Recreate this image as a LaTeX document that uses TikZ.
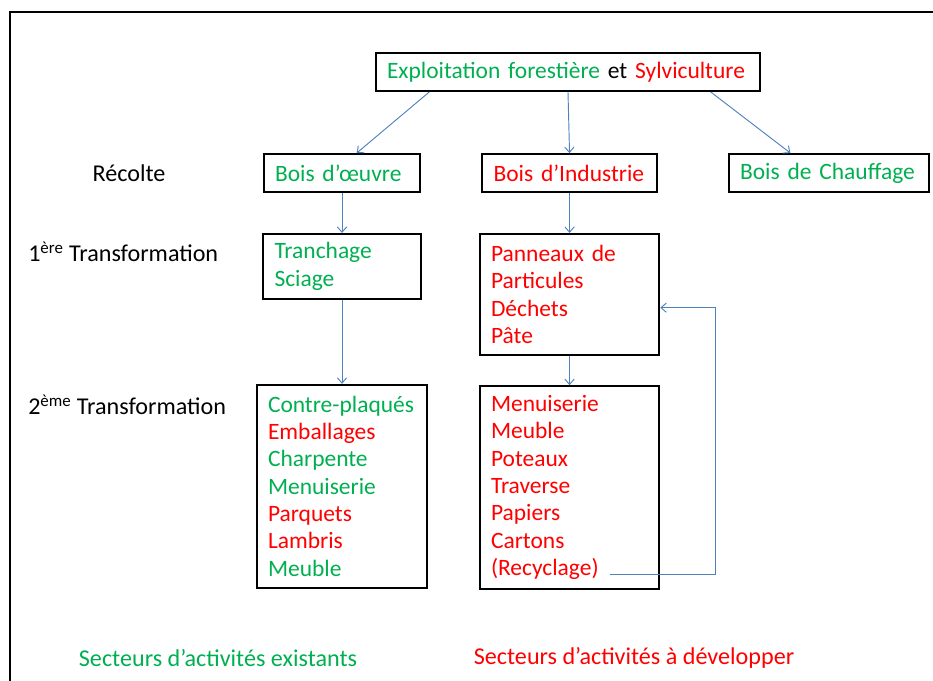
\documentclass[tikz,border=0pt]{standalone}
\usepackage{fontspec}
\setmainfont{Carlito}
\usepackage{xcolor}
\usepackage{tikz}
\usetikzlibrary{positioning,arrows.meta}
\definecolor{vert}{HTML}{00B050}
\definecolor{rouge}{HTML}{FF0000}
\definecolor{fleche}{HTML}{4F81BD}

\begin{document}
\begin{tikzpicture}[x=0.75pt, y=-0.75pt, node distance=31.5pt and 45pt,
    box/.style={draw, line width=1.4pt, inner xsep=8.5pt, inner ysep=0pt, align=left, font=\fontsize{17.6pt}{20.5pt}\selectfont},
    stage/.style={font=\fontsize{18.1pt}{21pt}\selectfont, inner sep=0pt},
    link/.style={-{Straight Barb[length=4pt,width=7pt]}, draw=fleche, line width=0.7pt}]
        \useasboundingbox (0,0) rectangle (933,681); % Page size
        \draw[line width=1.6pt] (10,681) -- (10,12) -- (933,12); % Frame

        % Top of the tree
        \node[box, text width=271.5pt, minimum height=28.5pt] (expl) at (568,72) {\textcolor{vert}{Exploitation forestière} et \textcolor{rouge}{Sylviculture}};

        % Harvest row
        \node[box, text width=100.5pt, minimum height=28.5pt, text=vert] (oeuvre) at (342,173) {Bois d’œuvre};
        \node[box, text width=114pt, minimum height=28.5pt, text=rouge, right=45pt of oeuvre] (indus) {Bois d’Industrie};
        \node[box, text width=133.5pt, minimum height=28.5pt, text=vert, right=52.5pt of indus] (chauf) {Bois de Chauffage};

        % First transformation
        \node[box, text width=101.25pt, minimum height=48.75pt, text=vert, below=30pt of oeuvre] (tranch) {Tranchage\\Sciage};
        \node[box, text width=117.75pt, minimum height=90.75pt, text=rouge, below=30pt of indus] (pann) {Panneaux de\\Particules\\Déchets\\Pâte};

        % Second transformation
        \node[box, text width=111pt, inner xsep=8pt, minimum height=152.25pt, below=63pt of tranch] (contre) {\textcolor{vert}{Contre-plaqués}\\\textcolor{rouge}{Emballages}\\\textcolor{vert}{Charpente}\\\textcolor{vert}{Menuiserie}\\\textcolor{rouge}{Parquets}\\\textcolor{rouge}{Lambris}\\\textcolor{vert}{Meuble}};
        \node[box, text width=117.75pt, minimum height=152.25pt, text=rouge, below=22pt of pann] (menu) {Menuiserie\\Meuble\\Poteaux\\Traverse\\Papiers\\Cartons\\(Recyclage)};

        % Stage names on the left
        \node[stage] (recolte) at (129,173) {Récolte};
        \node[stage, anchor=west] (trans1) at (28,252) {1\textsuperscript{ère} Transformation};
        \node[stage, anchor=west] (trans2) at (28,405) {2\textsuperscript{ème} Transformation};

        % Legend
        \node[stage, text=vert] (exist) at (218,658) {Secteurs d’activités existants};
        \node[stage, text=rouge] (dev) at (634,658) {Secteurs d’activités à développer};

        % Arrows
        \draw[link] ([xshift=-104pt]expl.south) -- ([xshift=11pt]oeuvre.north); % To Bois d'oeuvre
        \draw[link] (expl.south) -- (indus.north);                             % To Bois d'Industrie
        \draw[link] ([xshift=107pt]expl.south) -- ([xshift=-29pt]chauf.north);  % To Bois de Chauffage
        \draw[link] (oeuvre) -- (tranch);
        \draw[link] (indus) -- (pann);
        \draw[link] (tranch) -- (contre);
        \draw[link] (pann) -- (menu);
        \coordinate (recyc) at (610,574); % End of (Recyclage)
        \draw[link] (recyc) -- ++(105,0) |- ([yshift=-10pt]pann.east); % Back to Panneaux
    \end{tikzpicture}
\end{document}
